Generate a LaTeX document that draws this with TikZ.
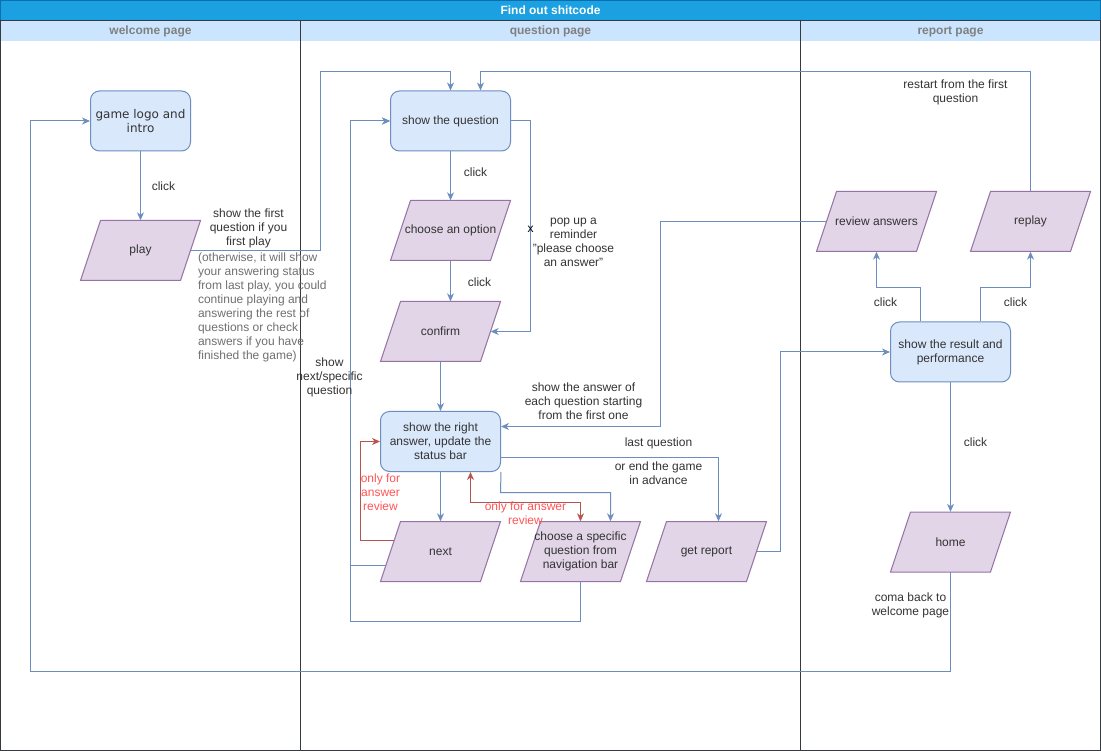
\documentclass[tikz,border=0pt]{standalone}
\usepackage{fontspec}
\setmainfont{Liberation Sans}
\newfontfamily\logofont{DejaVu Sans}
\usetikzlibrary{arrows.meta,calc}
\definecolor{bfill}{HTML}{DAE8FC}
\definecolor{bline}{HTML}{6C8EBF}
\definecolor{pfill}{HTML}{E1D5E7}
\definecolor{pline}{HTML}{9673A6}
\definecolor{rline}{HTML}{B85450}
\definecolor{rtext}{HTML}{FF5555}
\definecolor{txt}{HTML}{333333}
\definecolor{note}{HTML}{707070}
\definecolor{titlebg}{HTML}{1BA1E2}
\definecolor{titleline}{HTML}{0B6FAF}
\definecolor{headbg}{HTML}{CCE5FF}
\definecolor{headtxt}{HTML}{808080}
\definecolor{laneline}{HTML}{36393D}
% input/output step: a 120x60 parallelogram (slant 20) with a named text node on top
\newcommand\ionode[3]{%
  \filldraw[fill=pfill, draw=pline, line width=1pt]
    ($(#2)+(-60,30)$) -- ($(#2)+(40,30)$) -- ($(#2)+(60,-30)$) -- ($(#2)+(-40,-30)$) -- cycle;
  \node[iobox] (#1) at (#2) {#3};}
\begin{document}
\begin{tikzpicture}[x=1pt,y=-1pt,
  every node/.style={font=\fontsize{12}{14}\selectfont, text=txt},
  proc/.style={rectangle, rounded corners=9pt, draw=bline, fill=bfill, line width=1pt,
    minimum width=120pt, minimum height=60pt, align=center, inner sep=2pt},
  iobox/.style={rectangle, minimum width=120pt, minimum height=60pt, align=center, inner sep=0pt},
  arrowtip/.style={-{Stealth[length=8pt,width=7pt,inset=2.5pt]}},
  edge/.style={draw=bline, line width=1pt, arrowtip},
  redge/.style={draw=rline, line width=1pt, arrowtip},
  lbl/.style={align=center},
  rlbl/.style={align=center, text=rtext},
  head/.style={font=\bfseries\fontsize{12}{14}\selectfont, text=headtxt},
]
\useasboundingbox (-0.5,-0.5) rectangle (1100.5,750.5);

% pool and lanes
\fill[white] (0,0) rectangle (1100,750);
\fill[headbg] (0,20) rectangle (1100,41);
\filldraw[fill=titlebg, draw=titleline, line width=1pt] (0,0) rectangle (1100,20);
\draw[laneline, line width=1pt] (0,20) rectangle (300,750);
\draw[laneline, line width=1pt] (300,20) rectangle (800,750);
\draw[laneline, line width=1pt] (800,20) rectangle (1100,750);
\node[font=\bfseries\fontsize{12}{14}\selectfont, text=white] (title) at (550,10) {Find out shitcode};
\node[head] (h1) at (150,31) {welcome page};
\node[head] (h2) at (550,31) {question page};
\node[head] (h3) at (950,31) {report page};

% steps
\node[proc, minimum width=100pt, font=\logofont\fontsize{12}{14}\selectfont] (logo) at (140,120.5) {game logo and\\intro};
\ionode{play}{140,250}{play}
\node[proc] (q) at (450,120.5) {show the question};
\ionode{opt}{450,230}{choose an option}
\ionode{conf}{440,331}{confirm}
\node[proc] (ans) at (440,441) {show the right\\answer, update the\\status bar};
\ionode{next}{440,551}{next}
\ionode{csq}{580,551}{choose a specific\\question from\\navigation bar}
\ionode{gr}{706,551}{get report}
\node[proc] (res) at (950,351.5) {show the result and\\performance};
\ionode{rev}{876,221}{review answers}
\ionode{replay}{1030,221}{replay}
\ionode{home}{950,541.5}{home}

% welcome page flow
\draw[edge] (logo.south) -- (play.north);
\node[lbl] (l1) at (163,186) {click};
\draw[edge] ($(play.east)+(-10,0)$) -- (320,250) -- (320,71) -| (q.north);
\node[lbl] (l2) at (248,228) {show the first\\question if you\\first play};
\node[align=left, text=note, anchor=west] (l3) at (194,307) {(otherwise, it will show\\your answering status\\from last play, you could\\continue playing and\\answering the rest of\\questions or check\\answers if you have\\finished the game)};

% question page flow
\draw[edge] (q.south) -- (opt.north);
\node[lbl] (l4) at (475,172) {click};
\draw[edge] (opt.south) -- ($(conf.north)+(10,0)$);
\node[lbl] (l5) at (479,282) {click};
\draw[edge] (q.east) -- (530,120.5) |- ($(conf.east)+(-10,0)$);
\node[text=black] (x) at (530,229) {x};
\node[lbl] (l6) at (573,242) {pop up a\\reminder\\"please choose\\an answer"};
\draw[edge] ($(conf.south)$) -- (ans.north);

\draw[edge] ($(next.center)+(-54.7,14)$) -- (350,565) |- (q.west);
\draw[edge] (csq.south) -- (580,621) -- (350,621) |- (q.west);
\node[lbl] (l7) at (329,377) {show\\next/specific\\question};

\draw[edge] (ans.south) -- (next.north);
\draw[edge] (ans.south east) -- (500,492) -| ($(csq.north)+(30,0)$);
\draw[redge] ($(next.center)+(-46.3,-11)$) -- (360,540) |- (ans.west);
\node[rlbl] (l8) at (380,492) {only for\\answer\\review};
\draw[redge, {Stealth[length=8pt,width=7pt,inset=2.5pt]}-{Stealth[length=8pt,width=7pt,inset=2.5pt]}]
  ($(ans.south)+(30,0)$) -- (470,502) -| (csq.north);
\node[rlbl] (l9) at (525,512.5) {only for answer\\review};

\draw[edge] ($(ans.east)+(0,16)$) -| ($(gr.north)+(12,0)$);
\node[lbl] (l10) at (658,443) {last question};
\node[lbl] (l11) at (658,473) {or end the game\\in advance};

\draw[edge] ($(rev.west)+(10,0)$) -- (660,221) |- ($(ans.east)+(0,-15)$);
\node[lbl] (l12) at (583,401) {show the answer of\\each question starting\\from the first one};

% report page flow
\draw[edge] ($(gr.east)+(-10,0)$) -- (780,551) |- (res.west);
\draw[edge] ($(res.north)+(-30,0)$) -- (920,287) -| (rev.south);
\node[lbl] (l13) at (885,301.5) {click};
\draw[edge] ($(res.north)+(30,0)$) -- (980,287) -| (replay.south);
\node[lbl] (l14) at (1015,301.5) {click};
\draw[edge] (replay.north) -- (1030,71) -| ($(q.north)+(30,0)$);
\node[lbl] (l15) at (955,92) {restart from the first\\question};
\draw[edge] (res.south) -- (home.north);
\node[lbl] (l16) at (975,441.5) {click};
\draw[edge] (home.south) -- (950,671) -- (30,671) |- (logo.west);
\node[lbl] (l17) at (910,605) {coma back to\\welcome page};
\end{tikzpicture}
\end{document}
